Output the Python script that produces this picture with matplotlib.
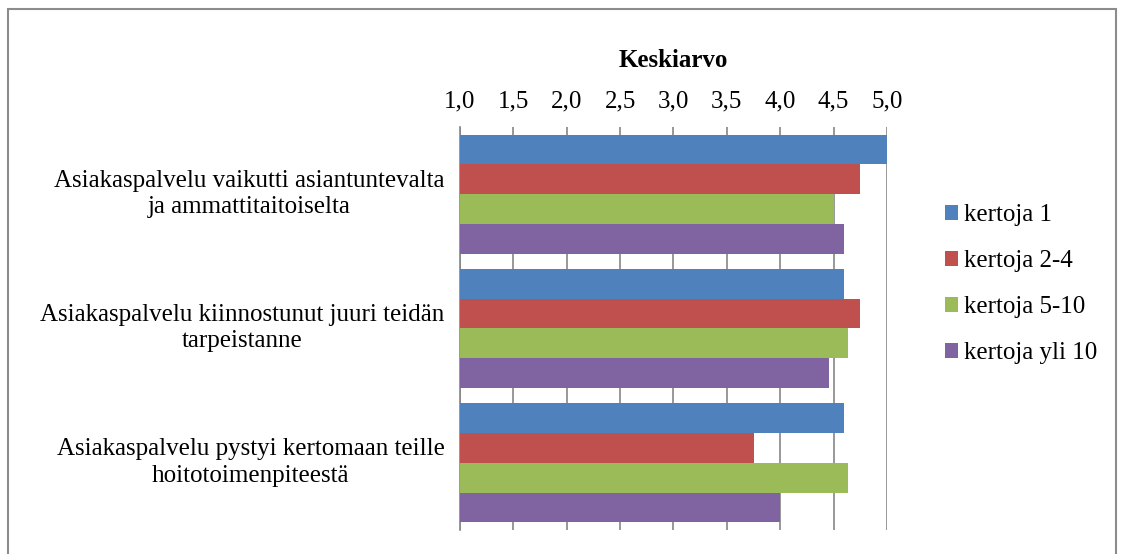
import matplotlib.pyplot as plt
from matplotlib.patches import Rectangle
from matplotlib.transforms import ScaledTranslation
import numpy as np

plt.rcParams['font.family'] = ['Liberation Serif', 'DejaVu Serif']

categories = [
    'Asiakaspalvelu vaikutti asiantuntevalta\nja ammattitaitoiselta',
    'Asiakaspalvelu kiinnostunut juuri teidän\ntarpeistanne',
    'Asiakaspalvelu pystyi kertomaan teille\nhoitotoimenpiteestä',
]
series_names = ['kertoja 1', 'kertoja 2-4', 'kertoja 5-10', 'kertoja yli 10']
kertoja_1 = [5.0, 4.6, 4.6]
kertoja_2_4 = [4.75, 4.75, 3.75]
kertoja_5_10 = [4.5, 4.63, 4.63]
kertoja_yli_10 = [4.6, 4.46, 4.0]
ticks = [1.0, 1.5, 2.0, 2.5, 3.0, 3.5, 4.0, 4.5, 5.0]

colors = ['#4F81BD', '#C0504D', '#9BBB59', '#8064A2']
all_series = [kertoja_1, kertoja_2_4, kertoja_5_10, kertoja_yli_10]
fs = 18

fig = plt.figure(figsize=(11.21, 5.54), dpi=100)
ax = fig.add_axes([0.4103, 0.0433, 0.381, 0.7275])

bar_h = 0.222
centers = np.arange(len(categories))
for i, (vals, name, c) in enumerate(zip(all_series, series_names, colors)):
    offs = (i - 1.5) * bar_h
    ax.barh(centers + offs, np.array(vals) - 1.0, left=1.0, height=bar_h,
            color=c, label=name, zorder=3)

ax.set_xlim(1.0, 5.0)
ax.set_ylim(len(categories) - 0.5, -0.5)
ax.xaxis.tick_top()
ax.xaxis.set_label_position('top')
ax.set_xticks(ticks)
ax.set_xticklabels([f'{t:.1f}'.replace('.', ',') for t in ticks], fontsize=fs)
ax.tick_params(axis='x', length=0, pad=10.5)
ax.set_xlabel('Keskiarvo', fontsize=fs, fontweight='bold', labelpad=17)
ax.set_yticks(centers)
ax.set_yticklabels(categories, fontsize=fs, multialignment='center', linespacing=1.25)
ax.tick_params(axis='y', length=0, pad=11)
# nudge category labels up a bit
shift = ScaledTranslation(0, 0.05, fig.dpi_scale_trans)
for lab in ax.get_yticklabels():
    lab.set_transform(lab.get_transform() + shift)
ax.grid(axis='x', color='#868686', linewidth=1.2, zorder=0)
for s in ['top', 'right', 'bottom']:
    ax.spines[s].set_visible(False)
ax.spines['left'].set_color('#868686')
ax.spines['left'].set_linewidth(1.2)

leg = fig.legend(loc='center left', bbox_to_anchor=(0.843, 0.4865), frameon=False,
                 fontsize=fs, handlelength=0.5, handleheight=0.5,
                 handletextpad=0.25, labelspacing=0.96, borderaxespad=0, borderpad=0)

fig.patches.append(Rectangle((0.0068, -0.1), 0.989, 1.084, transform=fig.transFigure,
                             fill=False, edgecolor='#8c8c8c', linewidth=1.5))

fig.savefig('out.png', dpi=100)
